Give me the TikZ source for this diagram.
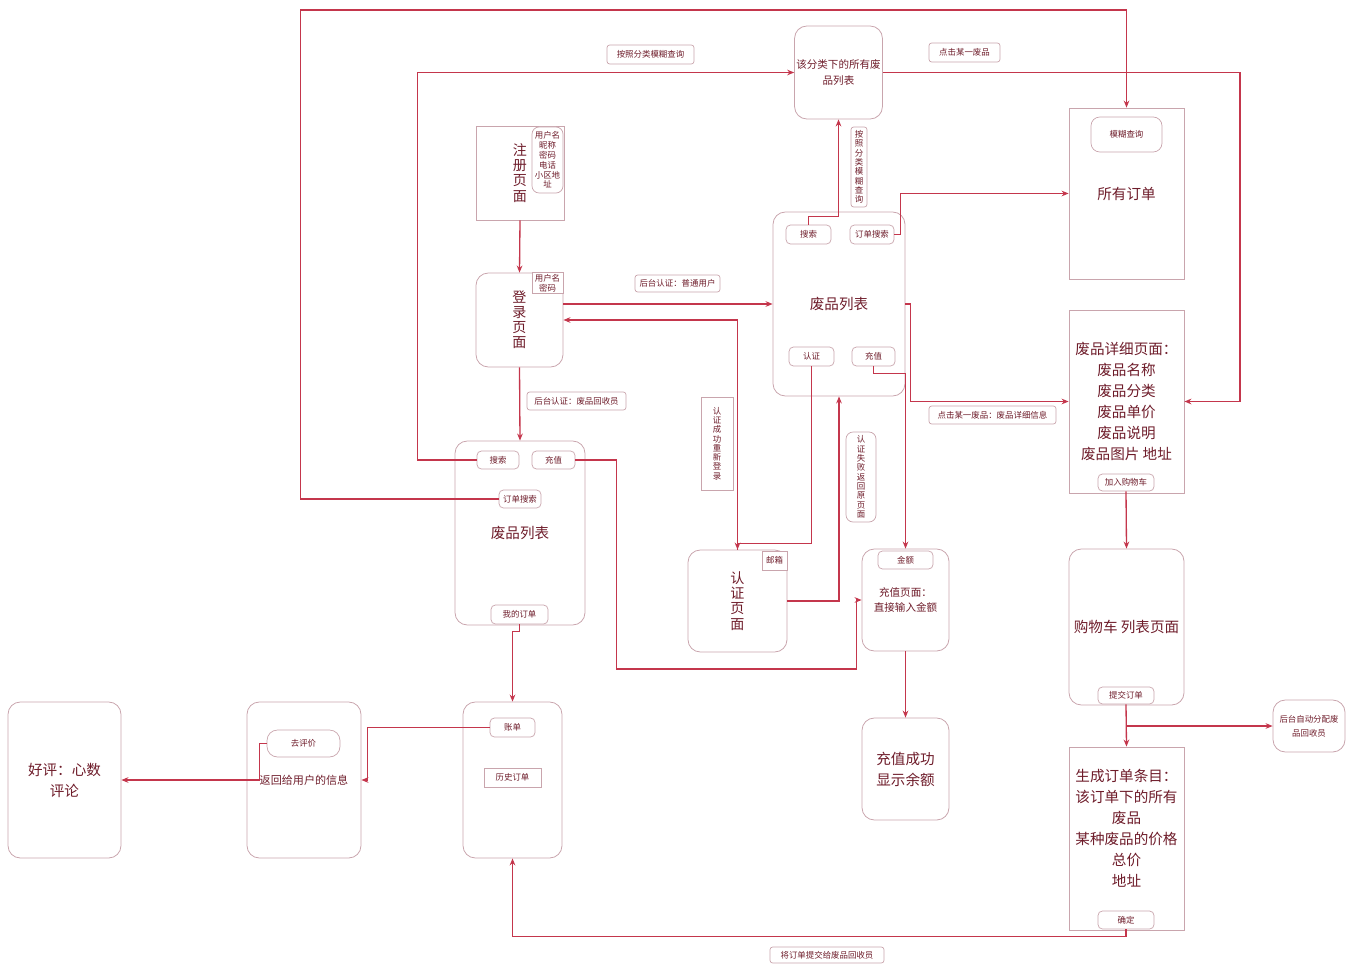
\documentclass[tikz,border=0pt]{standalone}
\usepackage{fontspec}
\setmainfont{Noto Sans CJK SC}
\usepackage{xcolor}
\usetikzlibrary{positioning, arrows.meta}
\definecolor{wLine}{HTML}{C4364C}
\definecolor{wBox}{HTML}{C9A5AD}
\definecolor{wInk}{HTML}{6E1C2A}
\tikzset{
  boxsize/.style 2 args={minimum width=#1*0.02cm, minimum height=#2*0.02cm},
  page/.style={draw=wBox, line width=0.45pt, rounded corners=7pt, text=wInk, align=center,
    inner sep=1pt, font=\fontsize{8.3}{12}\selectfont},
  sharppage/.style={page, sharp corners},
  midtext/.style={font=\fontsize{6}{9}\selectfont},
  vtext/.style={font=\fontsize{8}{8.6}\selectfont},
  btn/.style={draw=wBox, line width=0.4pt, rounded corners=2.5pt, fill=white, text=wInk,
    inner sep=1pt, align=center, font=\fontsize{4.8}{5.6}\selectfont},
  tagbox/.style={btn, rounded corners=1.5pt},
  vtag/.style={tagbox, font=\fontsize{4.8}{5.3}\selectfont},
  flow/.style={-{Stealth[length=4pt, width=3.2pt]}, wLine, line width=0.75pt},
}
\begin{document}
\begin{tikzpicture}[x=0.02cm, y=-0.02cm]
  \useasboundingbox (0,0) rectangle (1362,966);
  % pages
  \node[page, boxsize={87}{93}, midtext] (cat) at (838.5,72.5) {该分类下的所有废\\品列表};
  \node[sharppage, boxsize={88}{94}, vtext] (reg) at (520,173) {注\\册\\页\\面};
  \node[page, boxsize={87}{94}, vtext] (login) at (519.5,320) {登\\录\\页\\面};
  \node[page, boxsize={130}{184}] (ulist) at (520,533) {废品列表};
  \node[page, boxsize={132}{184}] (wlist) at (839,304) {废品列表};
  \node[page, boxsize={99}{102}, vtext] (auth) at (737.5,601) {认\\证\\页\\面};
  \node[page, boxsize={87}{102}, midtext] (charge) at (905.5,600) {充值页面：\\直接输入金额};
  \node[page, boxsize={87}{102}] (done) at (905.5,769) {充值成功\\显示余额};
  \node[sharppage, boxsize={115}{171}] (orders) at (1126.5,193.5) {所有订单};
  \node[sharppage, boxsize={115}{183}] (detail) at (1126.5,401.5)
    {废品详细页面：\\废品名称\\废品分类\\废品单价\\废品说明\\废品图片 地址};
  \node[page, boxsize={115}{156}] (cart) at (1126.5,627) {购物车 列表页面};
  \node[sharppage, boxsize={115}{183}, text depth=12pt] (gen) at (1126.5,838.5)
    {生成订单条目：\\该订单下的所有\\废品\\某种废品的价格\\总价\\地址};
  \node[page, boxsize={72}{52}, font=\fontsize{4.8}{8}\selectfont] (assign) at (1309,726) {后台自动分配废\\品回收员};
  \node[page, boxsize={99}{156}] (bill) at (512.5,780) {};
  \node[page, boxsize={114}{156}, font=\fontsize{6.3}{8}\selectfont] (reply) at (304,780) {返回给用户的信息};
  \node[page, boxsize={113}{156}] (good) at (64.5,780) {好评：心数\\评论};
  % buttons
  \node[btn, boxsize={31}{66}, rounded corners=4pt] (regitem) at (547.5,160) {用户名\\昵称\\密码\\电话\\小区地\\址};
  \node[btn, boxsize={31}{20}, sharp corners] (loginitem) at (547.5,283) {用户名\\密码};
  \node[btn, boxsize={42}{18}] (usearch) at (498,460) {搜索};
  \node[btn, boxsize={43}{18}] (ucharge) at (553.5,460) {充值};
  \node[btn, boxsize={42}{18}] (uorder) at (520,499) {订单搜索};
  \node[btn, boxsize={57}{19}] (umine) at (519.5,614.5) {我的订单};
  \node[btn, boxsize={45}{19}] (wsearch) at (808.5,234.5) {搜索};
  \node[btn, boxsize={44}{19}] (worder) at (872,234.5) {订单搜索};
  \node[btn, boxsize={45}{19}] (wauth) at (811.5,356.5) {认证};
  \node[btn, boxsize={43}{19}] (wcharge) at (873.5,356.5) {充值};
  \node[btn, boxsize={25}{19}, sharp corners] (authmail) at (774.5,560.5) {邮箱};
  \node[btn, boxsize={55}{18}] (chargeamt) at (905.5,560) {金额};
  \node[btn, boxsize={71}{35}, rounded corners=5pt] (ordersq) at (1126.5,134.5) {模糊查询};
  \node[btn, boxsize={56}{17}] (detailadd) at (1126,482.5) {加入购物车};
  \node[btn, boxsize={56}{17}] (cartsub) at (1126,695.5) {提交订单};
  \node[btn, boxsize={56}{18}] (genok) at (1126,920) {确定};
  \node[btn, boxsize={45}{19}] (billacc) at (512.5,727.5) {账单};
  \node[btn, boxsize={57}{19}, sharp corners] (billhist) at (512.5,777.5) {历史订单};
  \node[btn, boxsize={73}{27}, rounded corners=6pt] (replygo) at (303.5,743.5) {去评价};
  % tags
  \node[tagbox, boxsize={87}{19}] (tagcat) at (650.5,54.5) {按照分类模糊查询};
  \node[tagbox, boxsize={71}{19}] (tagpick) at (964.5,52.5) {点击某一废品};
  \node[tagbox, boxsize={99}{18}] (tagcollector) at (576.5,401) {后台认证：废品回收员};
  \node[tagbox, boxsize={85}{17}] (taguser) at (677.5,283.5) {后台认证：普通用户};
  \node[vtag, boxsize={32}{93}, sharp corners] (tagok) at (717,443.5) {认\\证\\成\\功\\重\\新\\登\\录};
  \node[vtag, boxsize={16}{80}] (tagfuzzy) at (859,167) {按\\照\\分\\类\\模\\糊\\查\\询};
  \node[vtag, boxsize={30}{90}, rounded corners=4pt] (tagfail) at (861,477) {认\\证\\失\\败\\返\\回\\原\\页\\面};
  \node[tagbox, boxsize={127}{18}] (tagdetail) at (992.5,415) {点击某一废品：废品详细信息};
  \node[tagbox, boxsize={114}{16}] (tagsubmit) at (827,955) {将订单提交给废品回收员};
  % bends
  \coordinate (rightbend) at (1240,72.5);
  \coordinate (topline) at (0,10);
  % flows
  \draw[flow] (reg.south) -- (login.north);
  \draw[flow] (login.south) -- (ulist.north);
  \draw[flow] (login.east |- wlist.west) -- (wlist.west);
  \draw[flow] (auth.north) |- (login.east);
  \draw[flow] (wauth.south) -- ++(0,177) -| (auth.north);
  \draw[flow] (auth.east) -| (wlist.south);
  \draw[flow] (wcharge.south) -- ++(0,7) -| (charge.north);
  \draw[flow] (wlist.east) -- ++(5,0) |- (detail.west);
  \draw[flow] (wsearch.north) -- ++(0,-8) -| (cat.south);
  \draw[flow] (worder.east) -- ++(6,0) |- (orders.west);
  \draw[flow] (cat.east) -- (rightbend) |- (detail.east);
  \draw[flow] (usearch.west) -- ++(-59,0) |- (cat.west);
  \draw[flow] (uorder.west) -- ++(-198,0) |- (topline -| orders.north) -- (orders.north);
  \draw[flow] (ucharge.east) -- ++(41,0) -- ++(0,209) -- ++(240,0) |- (charge.west);
  \draw[flow] (umine.south) -- ++(0,7) -| (bill.north);
  \draw[flow] (charge.south) -- (done.north);
  \draw[flow] (detailadd.south) -- (cart.north);
  \draw[flow] (cartsub.south) -- (gen.north);
  \draw[flow] (cartsub.south |- assign.west) -- (assign.west);
  \draw[flow] (genok.south) -- ++(0,7) -| (bill.south);
  \draw[flow] (billacc.west) -- ++(-122,0) |- (reply.east);
  \draw[flow] (replygo.west) -- ++(-7,0) |- (good.east);
\end{tikzpicture}
\end{document}
